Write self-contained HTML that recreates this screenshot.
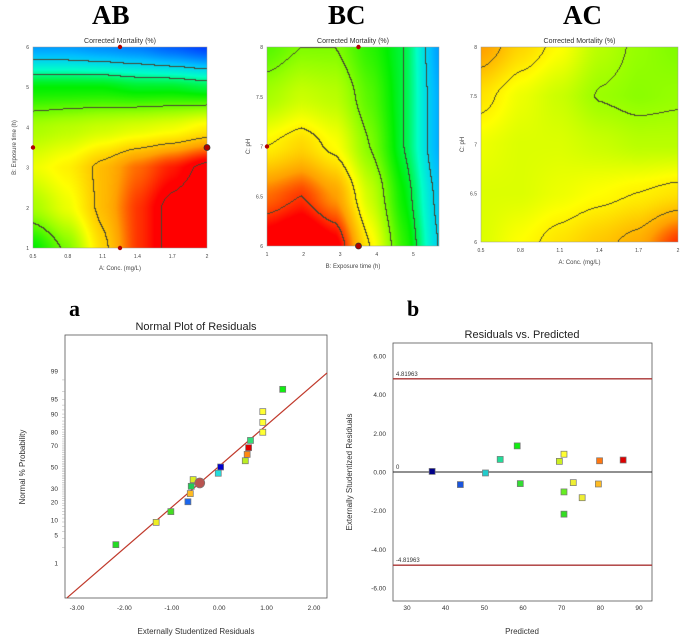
<!DOCTYPE html>
<html><head><meta charset="utf-8"><style>
body{margin:0;background:#fff;width:685px;height:641px;overflow:hidden;position:relative;font-family:"Liberation Sans",sans-serif}
canvas{position:absolute}
.big{position:absolute;font-family:"Liberation Serif",serif;font-weight:bold}
svg{position:absolute;left:0;top:0}
</style></head><body>
<div class="big" style="left:92px;top:0;font-size:27px">AB</div>
<div class="big" style="left:328px;top:0;font-size:27px">BC</div>
<div class="big" style="left:563px;top:0;font-size:27px">AC</div>
<div class="big" style="left:69px;top:296px;font-size:22px">a</div>
<div class="big" style="left:407px;top:296px;font-size:22px">b</div>
<canvas id="cAB" width="174" height="201" style="left:33px;top:47px"></canvas>
<canvas id="cBC" width="172" height="199" style="left:267px;top:47px"></canvas>
<canvas id="cAC" width="197" height="195" style="left:481px;top:47px"></canvas>
<svg id="s" width="685" height="641"></svg>
<script>
// ---- contour grid data ----
const abGrid=[[46,46,45,44,42,40],[60,60,60,59,59,58],[68,69,70,71,72,74],[72,74,78,82,85,88],[68,72,78,84,88,90],[60,66,76,84,88,90]];
const bcGrid=[[64,66,66,62,58,46],[68,70,69,64,58,47],[74,76,73,66,58,47],[82,84,80,70,60,49],[88,90,87,74,62,50]];
const acGrid=[[80,76,73,69,67,66],[75,72,70,67.3,66.5,67],[72,71,71,70,69,69],[71,71,72,73,74,75],[71,73,75,77,79,84]];
const abLevels=[50,56,65,77,87];
const bcLevels=[50,58,66,74,84];
const acLevels=[67.5,74,78];
// ---- normal plot data ----
const npX=[-2.18,-1.33,-1.02,-0.66,-0.61,-0.59,-0.55,-0.02,0.03,0.55,0.59,0.62,0.66,0.92,0.92,0.92,1.34];
const npP=[3,9,14,20,26,32,38,44,50,56,62,68,74,80,86,91,97];
const npC=['#22dd22','#eeee22','#44dd22','#1a66ee','#ffbb22','#22cc55','#ddee22','#22dddd','#0000cc','#bbee22','#ff8811','#dd0000','#33dd77','#ffff33','#ffff33','#ffff33','#11ee11'];
const npTicks=[1,5,10,20,30,50,70,80,90,95,99];
const npXTicks=[-3,-2,-1,0,1,2];
// ---- residuals vs predicted ----
const rpX=[36.5,43.8,50.3,54.1,58.5,59.3,69.4,70.6,70.6,70.6,73,75.3,79.5,79.8,85.9];
const rpY=[0.03,-0.65,-0.05,0.65,1.35,-0.6,0.55,0.92,-1.03,-2.18,-0.55,-1.33,-0.62,0.58,0.62];
const rpC=['#000088','#1a55dd','#22cccc','#22dd99','#11ee11','#33dd33','#ccee22','#ffff33','#66ee22','#33dd22','#eeee33','#eeee33','#ffbb22','#ff7711','#dd0000'];
const rpXTicks=[30,40,50,60,70,80,90];
const rpYTicks=[6,4,2,0,-2,-4,-6];
const limit=4.81963;

const stops=[[40,[0,64,255]],[48,[0,190,255]],[54,[0,255,200]],[60,[0,240,0]],[67,[150,255,0]],[73,[255,255,0]],[80,[255,160,0]],[86,[255,0,0]]];
function cmap(v){if(v<=stops[0][0])return stops[0][1];for(let i=1;i<stops.length;i++){if(v<=stops[i][0]){const a=stops[i-1],b=stops[i],t=(v-a[0])/(b[0]-a[0]);return a[1].map((c,k)=>c+(b[1][k]-c)*t);}}return stops[stops.length-1][1];}
function paint(id,g,levels){const c=document.getElementById(id),ctx=c.getContext('2d'),W=c.width,H=c.height,img=ctx.createImageData(W,H);const R=g.length-1,C=g[0].length-1;
const val=new Float32Array(W*H);
for(let y=0;y<H;y++)for(let x=0;x<W;x++){const fy=y/(H-1)*R,fx=x/(W-1)*C;const r=Math.min(Math.floor(fy),R-1),cc=Math.min(Math.floor(fx),C-1);const ty=fy-r,tx=fx-cc;
const sy=ty*ty*(3-2*ty)*0.5+ty*0.5,sx=tx*tx*(3-2*tx)*0.5+tx*0.5;
val[y*W+x]=g[r][cc]*(1-sx)*(1-sy)+g[r][cc+1]*sx*(1-sy)+g[r+1][cc]*(1-sx)*sy+g[r+1][cc+1]*sx*sy;}
const band=v=>levels.filter(l=>v>l).length;
for(let y=0;y<H;y++)for(let x=0;x<W;x++){const i=y*W+x,v=val[i];let col=cmap(v);
 const b=band(v);if((x<W-1&&band(val[i+1])!==b)||(y<H-1&&band(val[i+W])!==b))col=[70,70,50];
 img.data[i*4]=col[0];img.data[i*4+1]=col[1];img.data[i*4+2]=col[2];img.data[i*4+3]=255;}
ctx.putImageData(img,0,0);}
paint('cAB',abGrid,abLevels);paint('cBC',bcGrid,bcLevels);paint('cAC',acGrid,acLevels);

const S=document.getElementById('s');const NS='http://www.w3.org/2000/svg';
function el(t,a,txt){const e=document.createElementNS(NS,t);for(const k in a)e.setAttribute(k,a[k]);if(txt!==undefined)e.textContent=txt;S.appendChild(e);return e;}
function panel(x0,y0,x1,y1,xt,xl,yt,yl,xlab,ylab,name){
 let e=el('rect',{x:x0,y:y0,width:x1-x0,height:y1-y0,fill:'none',stroke:'#999','stroke-width':0.5});
 
 e=el('text',{x:(x0+x1)/2,y:y0-4,'font-size':7,'text-anchor':'middle',fill:'#333'},'Corrected Mortality  (%)');
 
 xt.forEach((v,i)=>{const t=el('text',{x:v,y:y1+10,'font-size':5,'text-anchor':'middle',fill:'#444'},xl[i]);});
 yt.forEach((v,i)=>{const t=el('text',{x:x0-4,y:v+2,'font-size':5,'text-anchor':'end',fill:'#444'},yl[i]);});
 e=el('text',{x:(x0+x1)/2,y:y1+22,'font-size':6,'text-anchor':'middle',fill:'#444'},xlab);
 e=el('text',{x:0,y:0,'font-size':6,'text-anchor':'middle',fill:'#444',transform:`translate(${x0-17},${(y0+y1)/2}) rotate(-90)`},ylab);
}
const lin=(a,b,c,d)=>v=>c+(v-a)/(b-a)*(d-c);
let ax=lin(0.5,2,33,207),ay=lin(1,6,248,47);
panel(33,47,207,248,[0.5,0.8,1.1,1.4,1.7,2].map(ax),['0.5','0.8','1.1','1.4','1.7','2'],[1,2,3,4,5,6].map(ay),['1','2','3','4','5','6'],'A: Conc. (mg/L)','B: Exposure time (h)','ab');
let bx=lin(1,5.7,267,439),by=lin(6,8,246,47);
panel(267,47,439,246,[1,2,3,4,5].map(bx),['1','2','3','4','5'],[6,6.5,7,7.5,8].map(by),['6','6.5','7','7.5','8'],'B: Exposure time (h)','C: pH','bc');
let cx=lin(0.5,2,481,678),cy=lin(6,8,242,47);
panel(481,47,678,242,[0.5,0.8,1.1,1.4,1.7,2].map(cx),['0.5','0.8','1.1','1.4','1.7','2'],[6,6.5,7,7.5,8].map(cy),['6','6.5','7','7.5','8'],'A: Conc. (mg/L)','C: pH','ac');
[[ax(1.25),ay(6)],[ax(0.5),ay(3.5)],[ax(1.25),ay(1)],[bx(3.5),by(8)],[bx(1),by(7)]].forEach(p=>{const c=el('circle',{cx:p[0],cy:p[1],r:2.2,fill:'#b00000'});});
[[ax(2),ay(3.5)],[bx(3.5),by(6)]].forEach(p=>{const c=el('circle',{cx:p[0],cy:p[1],r:3,fill:'#b00000',stroke:'#333','stroke-width':0.8});});

// ---- normal plot ----
const nx=lin(-3,2,77,314);
function probit(p){
 const a=[-39.6968302866538,220.946098424521,-275.928510446969,138.357751867269,-30.6647980661472,2.50662827745924],b=[-54.4760987982241,161.585836858041,-155.698979859887,66.8013118877197,-13.2806815528857],c=[-0.00778489400243029,-0.322396458041136,-2.40075827716184,-2.54973253934373,4.37466414146497,2.93816398269878],d=[0.00778469570904146,0.32246712907004,2.445134137143,3.75440866190742];
 const pl=0.02425;let q,r;if(p<pl){q=Math.sqrt(-2*Math.log(p));return(((((c[0]*q+c[1])*q+c[2])*q+c[3])*q+c[4])*q+c[5])/((((d[0]*q+d[1])*q+d[2])*q+d[3])*q+1);}
 if(p>1-pl){q=Math.sqrt(-2*Math.log(1-p));return-(((((c[0]*q+c[1])*q+c[2])*q+c[3])*q+c[4])*q+c[5])/((((d[0]*q+d[1])*q+d[2])*q+d[3])*q+1);}
 q=p-0.5;r=q*q;return(((((a[0]*r+a[1])*r+a[2])*r+a[3])*r+a[4])*r+a[5])*q/(((((b[0]*r+b[1])*r+b[2])*r+b[3])*r+b[4])*r+1);}
const ny=p=>467-probit(p/100)*41.3;
let e=el('rect',{x:65,y:335,width:262,height:263,fill:'none',stroke:'#555','stroke-width':0.8});
e=el('text',{x:196,y:330,'font-size':11,'text-anchor':'middle',fill:'#222'},'Normal Plot of Residuals');
for(let i=1;i<60;i++){const t=el('line',{x1:62,x2:65,y1:ny(0.9+i*1.65),y2:ny(0.9+i*1.65),stroke:'#999','stroke-width':0.4});}
npTicks.forEach(v=>{const t=el('text',{x:58,y:ny(v)+2.5,'font-size':6.5,'text-anchor':'end',fill:'#333'},v);});
npXTicks.forEach(v=>{const t=el('text',{x:nx(v),y:610,'font-size':6.5,'text-anchor':'middle',fill:'#333'},v.toFixed(2));});
e=el('text',{x:196,y:634,'font-size':8,'text-anchor':'middle',fill:'#333'},'Externally Studentized Residuals');
e=el('text',{x:0,y:0,'font-size':8,'text-anchor':'middle',fill:'#333',transform:'translate(25,467) rotate(-90)'},'Normal % Probability');
const zl=x=>467-(0.99*x+0.02)*41.3;
e=el('line',{x1:67,y1:zl(-3.22),x2:327,y2:zl(2.28),stroke:'#c0392b','stroke-width':1.2});
npX.forEach((v,i)=>{const r=el('rect',{x:nx(v)-3,y:ny(npP[i])-3,width:6,height:6,fill:npC[i],stroke:'#777','stroke-width':0.7});});
e=el('circle',{cx:nx(-0.41),cy:ny(35),r:5,fill:'#b85450',stroke:'#777','stroke-width':0.7});

// ---- residuals vs predicted ----
const rx=lin(30,90,407,639),ry=lin(-6,6,588,356);
e=el('rect',{x:393,y:343,width:259,height:258,fill:'none',stroke:'#555','stroke-width':0.8});
e=el('text',{x:522,y:338,'font-size':11,'text-anchor':'middle',fill:'#222'},'Residuals vs. Predicted');
rpYTicks.forEach(v=>{const t=el('text',{x:386,y:ry(v)+2.5,'font-size':6.5,'text-anchor':'end',fill:'#333'},v.toFixed(2));});
rpXTicks.forEach(v=>{const t=el('text',{x:rx(v),y:610,'font-size':6.5,'text-anchor':'middle',fill:'#333'},v);});
e=el('text',{x:522,y:634,'font-size':8,'text-anchor':'middle',fill:'#333'},'Predicted');
e=el('text',{x:0,y:0,'font-size':8,'text-anchor':'middle',fill:'#333',transform:'translate(352,472) rotate(-90)'},'Externally Studentized Residuals');
[limit,-limit].forEach(v=>{const l=el('line',{x1:393,x2:652,y1:ry(v),y2:ry(v),stroke:'#a33','stroke-width':1.3});
 const t=el('text',{x:396,y:ry(v)-3,'font-size':6,fill:'#333'},v.toFixed(5));});
e=el('line',{x1:393,x2:652,y1:ry(0),y2:ry(0),stroke:'#222','stroke-width':1});
e=el('text',{x:396,y:ry(0)-3,'font-size':6,fill:'#333'},'0');
rpX.forEach((v,i)=>{const r=el('rect',{x:rx(v)-3,y:ry(rpY[i])-3,width:6,height:6,fill:rpC[i],stroke:'#777','stroke-width':0.7});});
</script>
</body></html>
